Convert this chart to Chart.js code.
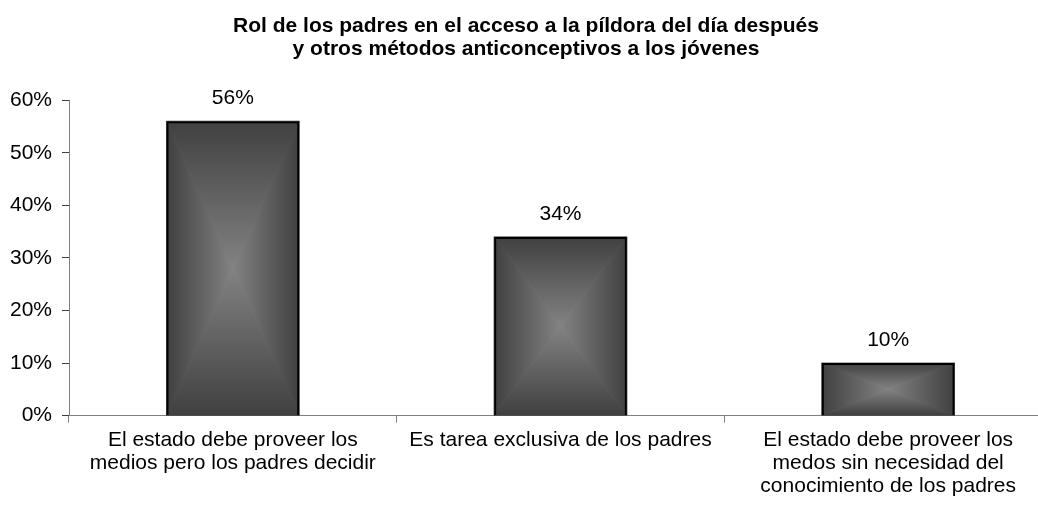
<!DOCTYPE html>
<html>
<head>
<meta charset="utf-8">
<script src="https://cdn.jsdelivr.net/npm/chart.js@4"></script>
<style>
  html, body { margin: 0; padding: 0; background: #fff; overflow: hidden; width: 1038px; height: 510px; }
  #wrap { width: 1052px; height: 510px; }
</style>
</head>
<body>
<div id="wrap"><canvas id="barchart"></canvas></div>
<script>
var categories = [
    ['El estado debe proveer los', 'medios pero los padres decidir'],
    ['Es tarea exclusiva de los padres'],
    ['El estado debe proveer los', 'medos sin necesidad del', 'conocimiento de los padres']
];
var values = [56, 34, 10];
var yTicks = [0, 10, 20, 30, 40, 50, 60];

var fontFamily = '"Liberation Sans", Arial, sans-serif';

// rectangular "from center" gradient like the old office charts
var boxGradient = {
    id: 'boxGradient',
    beforeDatasetsDraw: function (chart) {
        var ctx = chart.ctx;
        chart.getDatasetMeta(0).data.forEach(function (bar) {
            var x0 = bar.x - bar.width / 2, x1 = bar.x + bar.width / 2;
            var y0 = Math.min(bar.y, bar.base), y1 = Math.max(bar.y, bar.base);
            var cx = (x0 + x1) / 2, cy = (y0 + y1) / 2;
            var parts = [
                [[x0, y0], [x1, y0], [cx, cy], x0, y0, x0, cy],   // top
                [[x0, y1], [x1, y1], [cx, cy], x0, y1, x0, cy],   // bottom
                [[x0, y0], [x0, y1], [cx, cy], x0, y0, cx, y0],   // left
                [[x1, y0], [x1, y1], [cx, cy], x1, y0, cx, y0]    // right
            ];
            ctx.save();
            ctx.lineWidth = 1;
            parts.forEach(function (p) {
                var g = ctx.createLinearGradient(p[3], p[4], p[5], p[6]);
                g.addColorStop(0, '#404040');
                g.addColorStop(1, '#828282');
                ctx.fillStyle = g;
                ctx.strokeStyle = g;
                ctx.beginPath();
                ctx.moveTo(p[0][0], p[0][1]);
                ctx.lineTo(p[1][0], p[1][1]);
                ctx.lineTo(p[2][0], p[2][1]);
                ctx.closePath();
                ctx.fill();
                ctx.stroke();
            });
            ctx.restore();
        });
    }
};

var valueLabels = {
    id: 'valueLabels',
    afterDatasetsDraw: function (chart) {
        var ctx = chart.ctx;
        ctx.save();
        ctx.font = '21px ' + fontFamily;
        ctx.fillStyle = '#000';
        ctx.textAlign = 'center';
        ctx.textBaseline = 'alphabetic';
        chart.getDatasetMeta(0).data.forEach(function (bar, i) {
            ctx.fillText(values[i] + '%', bar.x, bar.y - 17);
        });
        ctx.restore();
    }
};

var chart1 = new Chart(document.getElementById('barchart'), {
    type: 'bar',
    data: {
        labels: categories,
        datasets: [{
            data: values,
            backgroundColor: 'rgba(0,0,0,0)',
            borderColor: '#000',
            borderWidth: 2,
            barPercentage: 0.405,
            categoryPercentage: 1
        }]
    },
    plugins: [boxGradient, valueLabels],
    options: {
        responsive: true,
        maintainAspectRatio: false,
        animation: false,
        layout: { padding: { left: 0, right: 0, top: 0, bottom: 6 } },
        plugins: {
            legend: { display: false },
            tooltip: { enabled: false },
            title: {
                display: true,
                text: ['Rol de los padres en el acceso a la píldora del día después', 'y otros métodos anticonceptivos a los jóvenes'],
                color: '#000',
                font: { family: fontFamily, size: 21, weight: 'bold', lineHeight: 1.1 },
                padding: { top: 15, bottom: 39 }
            }
        },
        scales: {
            x: {
                grid: { offset: true, drawOnChartArea: false, color: '#808080', tickLength: 7 },
                border: { color: '#808080', width: 1 },
                ticks: {
                    color: '#000',
                    padding: 6,
                    maxRotation: 0,
                    autoSkip: false,
                    font: { family: fontFamily, size: 21, lineHeight: 1.1 }
                }
            },
            y: {
                min: 0,
                max: 60,
                afterBuildTicks: function (axis) {
                    axis.ticks = yTicks.map(function (v) { return { value: v }; });
                },
                afterFit: function (axis) { axis.width = 69; },
                grid: { drawOnChartArea: false, color: '#404040', tickLength: 7 },
                border: { color: '#808080', width: 1 },
                ticks: {
                    color: '#000',
                    padding: 10,
                    font: { family: fontFamily, size: 21 },
                    callback: function (v) { return v + '%'; }
                }
            }
        }
    }
});
</script>
</body>
</html>
